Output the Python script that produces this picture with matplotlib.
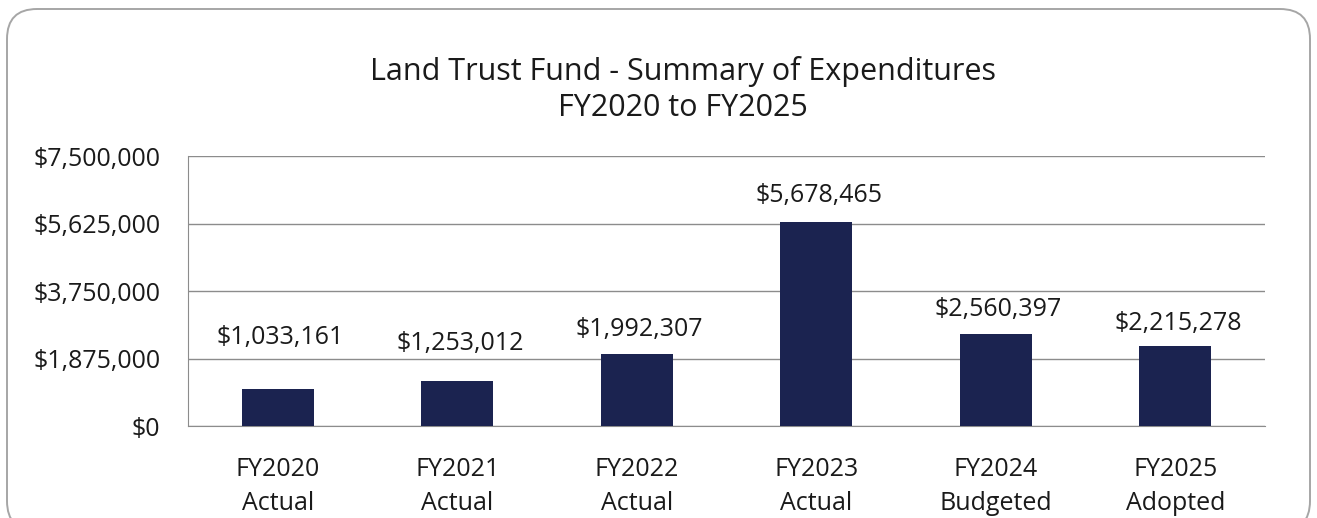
import matplotlib
matplotlib.use("Agg")
import matplotlib.pyplot as plt
from matplotlib.patches import FancyBboxPatch
from matplotlib.ticker import FuncFormatter

categories = ["FY2020\nActual", "FY2021\nActual", "FY2022\nActual",
              "FY2023\nActual", "FY2024\nBudgeted", "FY2025\nAdopted"]
values = [1033161, 1253012, 1992307, 5678465, 2560397, 2215278]
yticks = [0, 1875000, 3750000, 5625000, 7500000]
# label offsets above bar tops (points), as placed in the original
label_offsets = [37, 27, 18, 18.5, 17.5, 16.5]

plt.rcParams['font.family'] = ['Open Sans', 'DejaVu Sans']
TXT = '#1a1a1a'

W, H = 1317, 518
fig = plt.figure(figsize=(W / 100, H / 100), dpi=100)
fig.patch.set_facecolor('white')

# rounded border drawn in pixel space (y up)
bg = fig.add_axes([0, 0, 1, 1], zorder=-1)
bg.set_xlim(0, W)
bg.set_ylim(0, H)
bg.axis('off')
bg.add_patch(FancyBboxPatch((7, H - 531), W - 14, 522,
                            boxstyle="round,pad=0,rounding_size=30",
                            facecolor='none', edgecolor='#a6a6a6',
                            linewidth=1.4))

ax = fig.add_axes([188 / W, 1 - 426 / H, (1265 - 188) / W, (426 - 156) / H])
ax.patch.set_alpha(0)
x = list(range(len(categories)))
ax.bar(x, values, width=0.4, color='#1B2350', zorder=3)
ax.set_ylim(0, 7500000)
ax.set_xlim(-0.5, len(categories) - 0.5)
ax.set_yticks(yticks)
ax.yaxis.set_major_formatter(FuncFormatter(lambda v, p: f"${v:,.0f}"))
ax.set_xticks(x)
ax.set_xticklabels(categories, fontsize=18, color=TXT, linespacing=1.5)
ax.tick_params(axis='y', labelsize=18, colors=TXT, length=0, pad=20)
ax.tick_params(axis='x', length=0, pad=22)
ax.grid(axis='y', color='#8c8c8c', linewidth=1, zorder=0)
for s in ['top', 'right']:
    ax.spines[s].set_visible(False)
ax.spines['left'].set_color('#8c8c8c')
ax.spines['bottom'].set_color('#8c8c8c')

for xi, v, off in zip(x, values, label_offsets):
    ax.annotate(f"${v:,}", (xi, v), xytext=(2, off), textcoords='offset points',
                ha='center', va='center', fontsize=18, color=TXT)

fig.text(683 / W, 1 - 72 / H, "Land Trust Fund - Summary of Expenditures",
         ha='center', va='center', fontsize=22, color=TXT)
fig.text(683 / W, 1 - 108 / H, "FY2020 to FY2025",
         ha='center', va='center', fontsize=22, color=TXT)

fig.savefig("out.png", dpi=100)
